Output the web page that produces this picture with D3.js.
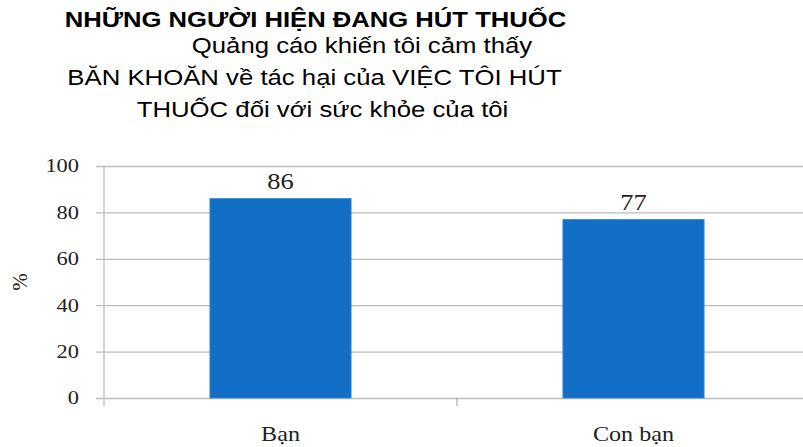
<!DOCTYPE html>
<html>
<head>
<meta charset="utf-8">
<script src="https://cdn.jsdelivr.net/npm/d3@7"></script>
<style>
  body { margin: 0; background: #fff; }
  svg { display: block; }
</style>
</head>
<body>
<svg id="chart"></svg>
<script>
const categories = ["Bạn", "Con bạn"];
const values = [86, 77];
const yTicks = [0, 20, 40, 60, 80, 100];
const titleLines = [
  "NHỮNG NGƯỜI HIỆN ĐANG HÚT THUỐC",
  "Quảng cáo khiến tôi cảm thấy",
  "BĂN KHOĂN về tác hại của VIỆC TÔI HÚT",
  "THUỐC đối với sức khỏe của tôi"
];

const width = 803;
const height = 447;
const plotLeft = 104;
const plotRight = 810;
const plotTop = 166;
const plotBottom = 398;
const stretch = 1.15; // source text is a little wider than it is tall

const svg = d3.select("#chart")
  .attr("width", width)
  .attr("height", height);

const xScale = d3.scaleBand()
  .domain(categories)
  .range([plotLeft, plotRight])
  .paddingInner(0.6)
  .paddingOuter(0.3);

const yScale = d3.scaleLinear()
  .domain([0, 100])
  .range([plotBottom, plotTop]);

// gridlines + y ticks
const yAxis = d3.axisLeft(yScale)
  .tickValues(yTicks)
  .tickSize(-(plotRight - plotLeft))
  .tickSizeOuter(0);

const gy = svg.append("g")
  .attr("transform", "translate(" + plotLeft + ",0)")
  .call(yAxis);
gy.select(".domain").remove();
gy.selectAll(".tick line")
  .attr("x1", -8)
  .attr("stroke", "#bcbcbc")
  .attr("stroke-width", 1.3);
gy.selectAll(".tick text")
  .attr("font-family", "Liberation Serif")
  .attr("font-size", "19.5px")
  .attr("fill", "#222")
  .attr("x", 0)
  .attr("dy", "0.3em")
  .attr("transform", "translate(-25,0) scale(" + stretch + ",1)");

// vertical axis line
svg.append("line")
  .attr("x1", plotLeft).attr("x2", plotLeft)
  .attr("y1", plotTop).attr("y2", plotBottom + 8)
  .attr("stroke", "#bcbcbc")
  .attr("stroke-width", 1.3);

// category separators
const boundaries = categories.slice(1).map(c => xScale(c) - xScale.step() * xScale.paddingInner() / 2);
svg.selectAll(".sep")
  .data(boundaries)
  .enter()
  .append("line")
  .attr("x1", d => d).attr("x2", d => d)
  .attr("y1", plotBottom).attr("y2", plotBottom + 8)
  .attr("stroke", "#9a9a9a");

svg.selectAll("rect.bar")
  .data(values)
  .enter()
  .append("rect")
  .attr("class", "bar")
  .attr("x", (d, i) => xScale(categories[i]))
  .attr("y", d => yScale(d))
  .attr("width", xScale.bandwidth())
  .attr("height", d => plotBottom - yScale(d))
  .attr("fill", "#116fc5")
  .attr("stroke", "#3d8ad6")
  .attr("stroke-width", 0.8);

svg.selectAll("text.val")
  .data(values)
  .enter()
  .append("text")
  .attr("class", "val")
  .attr("transform", (d, i) => "translate(" + (xScale(categories[i]) + xScale.bandwidth() / 2) + "," + (yScale(d) - 9) + ") scale(" + stretch + ",1)")
  .attr("text-anchor", "middle")
  .attr("font-family", "Liberation Serif")
  .attr("font-size", "23px")
  .attr("fill", "#222")
  .text(d => d);

svg.selectAll("text.cat")
  .data(categories)
  .enter()
  .append("text")
  .attr("class", "cat")
  .attr("transform", d => "translate(" + (xScale(d) + xScale.bandwidth() / 2) + ",441) scale(" + stretch + ",1)")
  .attr("text-anchor", "middle")
  .attr("font-family", "Liberation Serif")
  .attr("font-size", "21px")
  .attr("fill", "#222")
  .text(d => d);

svg.append("text")
  .attr("transform", "translate(27,282) rotate(-90)")
  .attr("text-anchor", "middle")
  .attr("font-family", "Liberation Serif")
  .attr("font-size", "21px")
  .attr("fill", "#222")
  .text("%");

// title block
const titleX = [315.5, 362, 314.5, 322.5];
const titleY = [27, 53, 85, 117];
svg.selectAll("text.title")
  .data(titleLines)
  .enter()
  .append("text")
  .attr("class", "title")
  .attr("transform", (d, i) => "translate(" + titleX[i] + "," + titleY[i] + ") scale(" + (i === 0 ? 1.14 : 1.17) + ",1)")
  .attr("text-anchor", "middle")
  .attr("font-family", "Liberation Sans, Arial, sans-serif")
  .attr("font-weight", (d, i) => i === 0 ? "bold" : "normal")
  .attr("font-size", (d, i) => i === 0 ? "22.5px" : "22px")
  .attr("fill", "#000")
  .text(d => d);
</script>
</body>
</html>
